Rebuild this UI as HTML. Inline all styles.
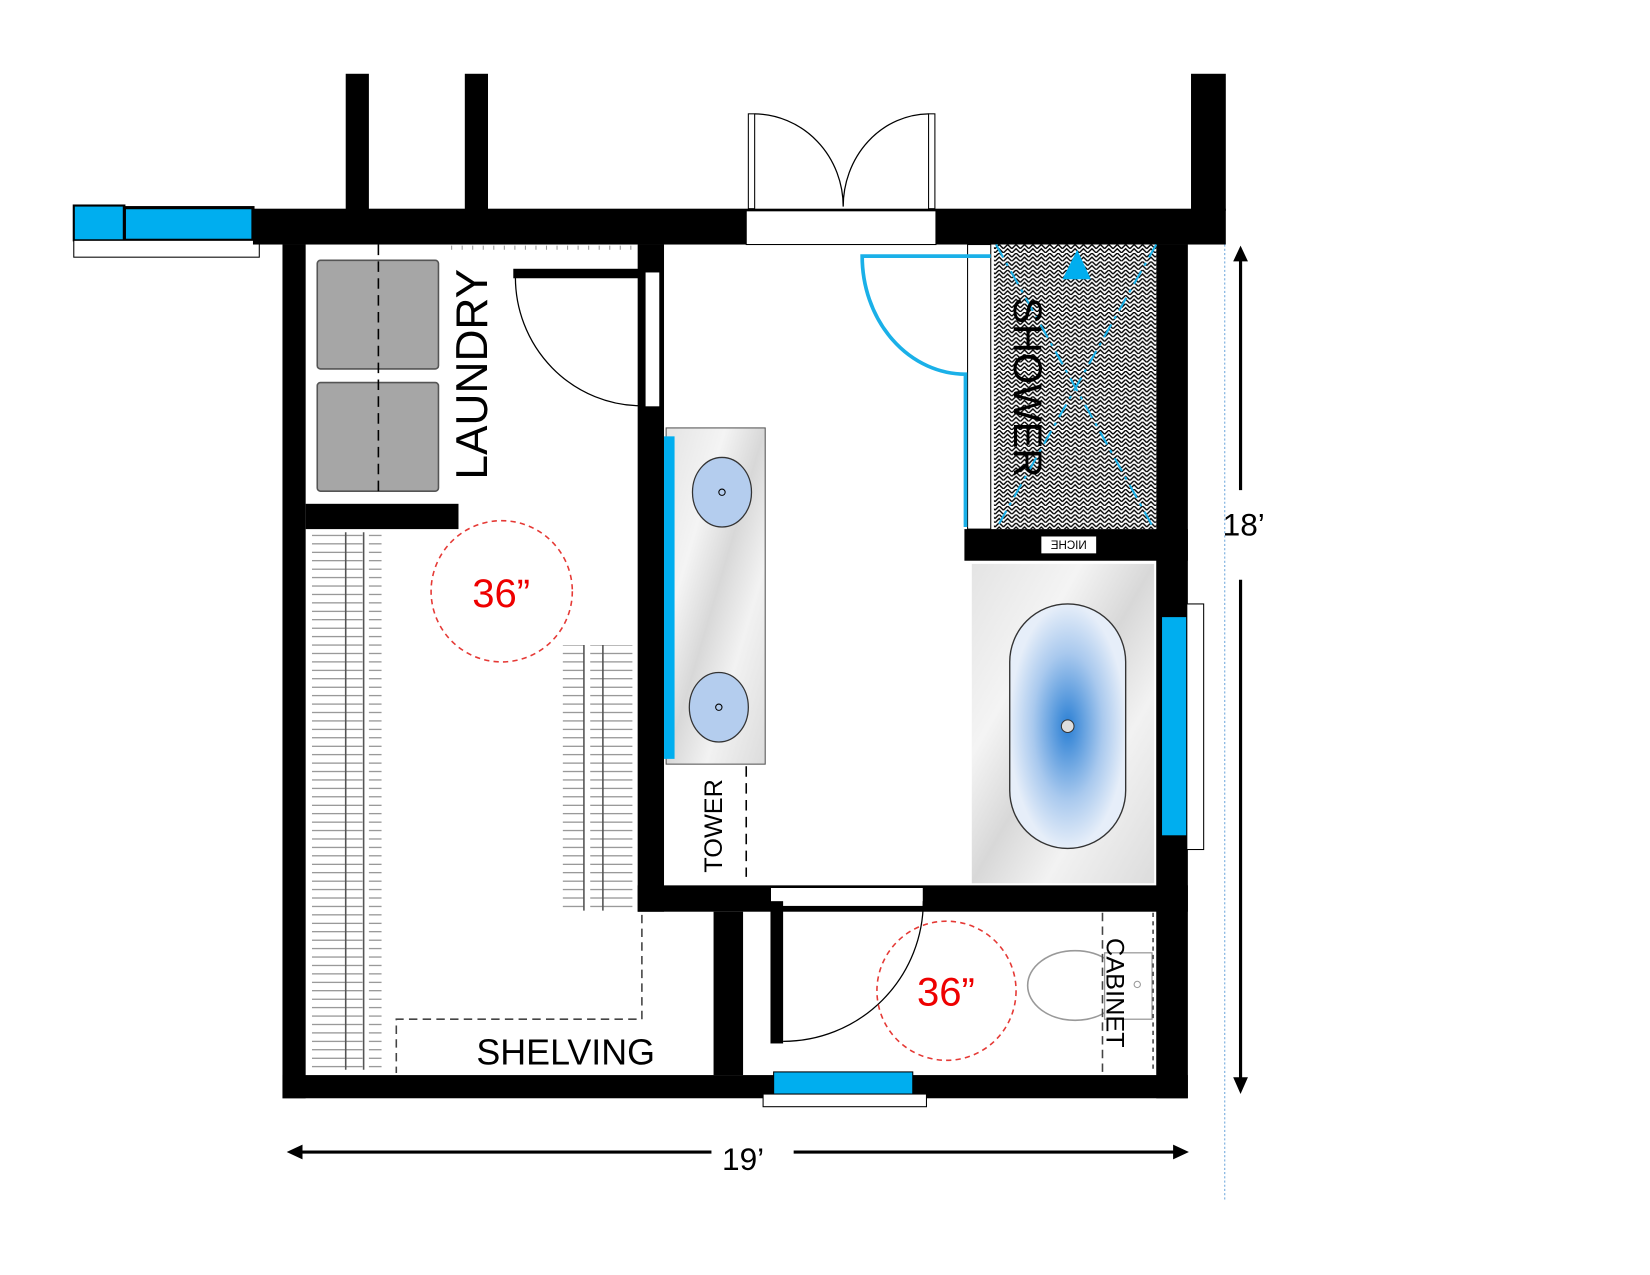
<!DOCTYPE html>
<html><head><meta charset="utf-8"><style>
html,body{margin:0;padding:0;background:#fff;width:1650px;height:1275px;overflow:hidden}
svg{display:block}
text{font-family:"Liberation Sans",sans-serif}
</style></head><body>
<svg width="1650" height="1275" viewBox="0 0 1650 1275" xmlns="http://www.w3.org/2000/svg">
<defs>
<pattern id="hatch" width="8" height="8" patternUnits="userSpaceOnUse">
<rect width="8" height="8" fill="#fff"/>
<path d="M0 8 L4 4 L8 8 M0 4 L4 0 L8 4" stroke="#000" stroke-width="1.3" fill="none"/>
</pattern>
<linearGradient id="marble" x1="0" y1="0" x2="1" y2="1">
<stop offset="0" stop-color="#e4e4e4"/><stop offset="0.3" stop-color="#f4f4f4"/><stop offset="0.5" stop-color="#d8d8d8"/><stop offset="0.7" stop-color="#f2f2f2"/><stop offset="1" stop-color="#dcdcdc"/>
</linearGradient>
<radialGradient id="tub" cx="0.5" cy="0.5" r="0.5">
<stop offset="0" stop-color="#2a7fd4"/><stop offset="0.6" stop-color="#a9c9ee"/><stop offset="1" stop-color="#e6eef9"/>
</radialGradient>
<pattern id="rod" width="70" height="8" patternUnits="userSpaceOnUse">
<path d="M0 4 H64" stroke="#777" stroke-width="1"/>
</pattern>
</defs>
<g transform="scale(1.054)">
<rect x="328" y="70" width="22" height="130" fill="#000"/>
<rect x="441" y="70" width="22" height="130" fill="#000"/>
<rect x="1130" y="70" width="33" height="130" fill="#000"/>
<rect x="70" y="195" width="48" height="33" fill="#00aeef" stroke="#000" stroke-width="2"/>
<rect x="118" y="197" width="122" height="31" fill="#00aeef" stroke="#000" stroke-width="3"/>
<rect x="70" y="228" width="176" height="16" fill="#fff" stroke="#000" stroke-width="1"/>
<rect x="240" y="198" width="923" height="34" fill="#000"/>
<rect x="708" y="200" width="180" height="32" fill="#fff" stroke="#000" stroke-width="1"/>
<rect x="710" y="108" width="6" height="90" fill="#fff" stroke="#000" stroke-width="1"/>
<rect x="881" y="108" width="6" height="90" fill="#fff" stroke="#000" stroke-width="1"/>
<path d="M716 108 A85 88 0 0 1 800 196 M881 108 A82 88 0 0 0 800 196" fill="none" stroke="#000" stroke-width="1.2"/>
<rect x="268" y="232" width="22" height="810" fill="#000"/>
<rect x="268" y="1020" width="859" height="22" fill="#000"/>
<rect x="1097" y="232" width="30" height="810" fill="#000"/>
<rect x="734" y="1017" width="132" height="21" fill="#00aeef" stroke="#000" stroke-width="1"/>
<rect x="724" y="1038" width="155" height="12" fill="#fff" stroke="#000" stroke-width="1"/>
<rect x="605" y="232" width="25" height="633" fill="#000"/>
<rect x="612" y="258" width="14" height="128" fill="#fff" stroke="#000" stroke-width="1"/>
<rect x="290" y="478" width="145" height="24" fill="#000"/>
<rect x="301" y="247" width="115" height="103" rx="3" fill="#a6a6a6" stroke="#555" stroke-width="1.5"/>
<rect x="301" y="363" width="115" height="103" rx="3" fill="#a6a6a6" stroke="#555" stroke-width="1.5"/>
<line x1="359" y1="232" x2="359" y2="470" stroke="#000" stroke-width="1.5" stroke-dasharray="10,6"/>
<path d="M428 235 H603" stroke="#999" stroke-width="4" stroke-dasharray="1,9"/>
<rect x="487" y="255" width="125" height="9" fill="#000"/>
<path d="M489 262 A120 122 0 0 0 609 385" fill="none" stroke="#000" stroke-width="1.2"/>
<text transform="translate(462,455) rotate(-90)" font-size="42" fill="#000">LAUNDRY</text>
<rect x="296" y="505" width="66" height="510" fill="url(#rod)"/>
<line x1="328" y1="505" x2="328" y2="1015" stroke="#555" stroke-width="1.5"/>
<line x1="345" y1="505" x2="345" y2="1015" stroke="#555" stroke-width="1.5"/>
<rect x="534" y="612" width="66" height="252" fill="url(#rod)"/>
<line x1="554" y1="612" x2="554" y2="864" stroke="#555" stroke-width="1.5"/>
<line x1="572" y1="612" x2="572" y2="864" stroke="#555" stroke-width="1.5"/>
<path d="M609 868 V967 H376 V1018" fill="none" stroke="#444" stroke-width="1.5" stroke-dasharray="8,5"/>
<text x="452" y="1010" font-size="34" fill="#000">SHELVING</text>
<circle cx="476" cy="561" r="67" fill="none" stroke="#e53935" stroke-width="1.5" stroke-dasharray="5,4"/>
<text x="448" y="576" font-size="38" fill="#e00">36”</text>
<rect x="677" y="865" width="28" height="155" fill="#000"/>
<rect x="605" y="840" width="522" height="25" fill="#000"/>
<rect x="731" y="842" width="145" height="18" fill="#fff" stroke="#000" stroke-width="1"/>
<rect x="731" y="855" width="12" height="135" fill="#000"/>
<path d="M743 988 A133 133 0 0 0 876 855" fill="none" stroke="#000" stroke-width="1.2"/>
<circle cx="898" cy="940" r="66" fill="none" stroke="#e53935" stroke-width="1.5" stroke-dasharray="5,4"/>
<text x="870" y="954" font-size="38" fill="#e00">36”</text>
<ellipse cx="1020" cy="935" rx="45" ry="33" fill="#fff" stroke="#999" stroke-width="1.5"/>
<rect x="1048" y="904" width="45" height="63" fill="#fff" stroke="#999" stroke-width="1.2"/>
<circle cx="1079" cy="934" r="3" fill="none" stroke="#999"/>
<line x1="1046" y1="866" x2="1046" y2="1018" stroke="#444" stroke-width="1.5" stroke-dasharray="8,5"/>
<line x1="1094" y1="866" x2="1094" y2="1018" stroke="#444" stroke-width="1.5" stroke-dasharray="4,4"/>
<text transform="translate(1050,890) rotate(90)" font-size="24" fill="#000">CABINET</text>
<rect x="943" y="232" width="154" height="270" fill="url(#hatch)"/>
<path d="M945 232 L1095 502 M1097 232 L945 502" stroke="#1ab0e8" stroke-width="2" stroke-dasharray="14,6,3,6"/>
<path d="M1008 265 L1022 237 L1035 265 Z" fill="#00aeef"/>
<text transform="translate(962,282) rotate(90)" font-size="38" fill="#000">SHOWER</text>
<rect x="918" y="232" width="22" height="270" fill="#fff" stroke="#000" stroke-width="1"/>
<path d="M940 243 H818 A98 112 0 0 0 916 355 V500" fill="none" stroke="#1ab0e8" stroke-width="3.5"/>
<rect x="915" y="502" width="212" height="30" fill="#000"/>
<rect x="988" y="509" width="52" height="16" fill="#fff"/>
<text transform="translate(1014,521) scale(-1,1)" font-size="11" text-anchor="middle" fill="#000">NICHE</text>
<rect x="922" y="535" width="173" height="303" fill="url(#marble)"/>
<rect x="958" y="573" width="110" height="232" rx="55" fill="url(#tub)" stroke="#333" stroke-width="1.3"/>
<circle cx="1013" cy="689" r="6" fill="#ddd" stroke="#333"/>
<rect x="1102" y="585" width="24" height="208" fill="#00aeef" stroke="#000" stroke-width="1"/>
<rect x="1126" y="573" width="16" height="233" fill="#fff" stroke="#000" stroke-width="1"/>
<rect x="632" y="406" width="94" height="319" fill="url(#marble)" stroke="#555" stroke-width="1"/>
<rect x="630" y="414" width="10" height="306" fill="#00aeef"/>
<ellipse cx="685" cy="467" rx="28" ry="33" fill="#b4cdee" stroke="#333" stroke-width="1.2"/>
<circle cx="685" cy="467" r="3" fill="none" stroke="#000"/>
<ellipse cx="682" cy="671" rx="28" ry="33" fill="#b4cdee" stroke="#333" stroke-width="1.2"/>
<circle cx="682" cy="671" r="3" fill="none" stroke="#000"/>
<line x1="708" y1="727" x2="708" y2="832" stroke="#000" stroke-width="1.5" stroke-dasharray="10,6"/>
<text transform="translate(685,828) rotate(-90)" font-size="24" fill="#000">TOWER</text>
<line x1="1162" y1="232" x2="1162" y2="1140" stroke="#6fa8dc" stroke-width="1" stroke-dasharray="2,2"/>
<line x1="1177" y1="240" x2="1177" y2="465" stroke="#000" stroke-width="3"/>
<line x1="1177" y1="550" x2="1177" y2="1030" stroke="#000" stroke-width="3"/>
<path d="M1170 248 L1177 233 L1184 248 Z M1170 1022 L1177 1038 L1184 1022 Z" fill="#000"/>
<text x="1160" y="508" font-size="30" fill="#000">18’</text>
<line x1="280" y1="1093" x2="675" y2="1093" stroke="#000" stroke-width="3"/>
<line x1="753" y1="1093" x2="1120" y2="1093" stroke="#000" stroke-width="3"/>
<path d="M287 1086 L272 1093 L287 1100 Z M1113 1086 L1128 1093 L1113 1100 Z" fill="#000"/>
<text x="685" y="1110" font-size="30" fill="#000">19’</text>
</g>
</svg>
</body></html>
